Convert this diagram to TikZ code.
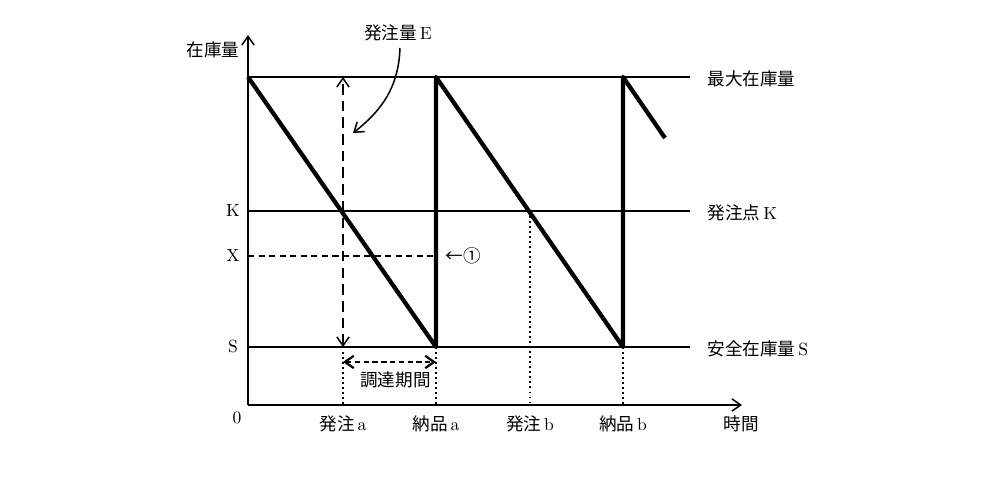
\documentclass[tikz,border=0pt]{standalone}
\usepackage{fontspec}
\usepackage{tikz}
\usetikzlibrary{arrows.meta}
\newfontfamily\jp{Noto Sans CJK JP}

\begin{document}
\begin{tikzpicture}[>={Straight Barb[length=5pt,width=7pt]}]
\useasboundingbox (-4.96,-1.9) rectangle (14.92,8.1);
\tikzset{
  thinline/.style={black, line width=0.03 cm},
  sawline/.style={black, line width=0.085 cm, line join=round},
  dotline/.style={black, line width=0.03 cm, dotted},
  lbl/.style={inner sep=1pt}
}

% axes
\coordinate (o) at (0,0);
\coordinate (xend) at (9.88,0);
\coordinate (yend) at (0,7.4);
\draw[thinline,->] (o) -- (xend);
\draw[thinline,->] (o) -- (yend);
\node[lbl] (zero) at (-0.22,-0.26) {0};
\node[lbl,font=\jp] (ylabel) at (-0.7,7.1) {在庫量};
\node[lbl,font=\jp] (xlabel) at (9.86,-0.38) {時間};

% levels
\coordinate (max0) at (0,6.56);
\coordinate (max1) at (8.84,6.56);
\coordinate (k0) at (0,3.88);
\coordinate (k1) at (8.84,3.88);
\coordinate (s0) at (0,1.16);
\coordinate (s1) at (8.84,1.16);
\draw[thinline] (max0) -- (max1);
\draw[thinline] (k0) -- (k1);
\draw[thinline] (s0) -- (s1);
\node[lbl,font=\jp,anchor=west] (maxlbl) at (9.15,6.52) {最大在庫量};
\node[lbl,anchor=west] (klbl) at (9.15,3.84) {{\jp 発注点}\,K};
\node[lbl,anchor=west] (slbl) at (9.15,1.12) {{\jp 安全在庫量}\,S};
\node[lbl] (k) at (-0.3,3.88) {K};
\node[lbl] (x) at (-0.3,2.98) {X};
\node[lbl] (s) at (-0.3,1.16) {S};

% sawtooth
\coordinate (p1) at (3.76,1.16);
\coordinate (p2) at (3.76,6.56);
\coordinate (p3) at (7.5,1.16);
\coordinate (p4) at (7.5,6.56);
\coordinate (p5) at (8.34,5.34);
\draw[sawline] (max0) -- (p1) -- (p2) -- (p3) -- (p4) -- (p5);

% X level
\coordinate (xa) at (3.76,2.98);
\draw[thinline, dash pattern=on 3.5pt off 2.5pt] (0,2.98) -- (xa);
\node[lbl,font=\jp] (one) at (4.3,2.98) {←①};

% order quantity
\coordinate (oa) at (1.9,0);
\coordinate (oatop) at (1.9,6.56);
\coordinate (oabot) at (1.9,1.16);
\draw[thinline, dash pattern=on 6pt off 3.5pt, <->] (oabot) -- (oatop);
\node[lbl,font=\jp] (elbl) at (3.0,7.45) {発注量\,\rmfamily E};
\coordinate (etip) at (2.1,5.44);
\draw[thinline,->] (3.04,7.14) to[out=-92,in=38] (etip);

% lead time
\coordinate (lt0) at (1.9,0.86);
\coordinate (lt1) at (3.76,0.86);
\draw[black, line width=0.045 cm, dash pattern=on 3pt off 2pt, <->] (lt0) -- (lt1);
\node[lbl,font=\jp] (ltlbl) at (2.95,0.5) {調達期間};

% ticks
\draw[dotline] (oabot) -- (oa);
\draw[dotline] (p1) -- (3.76,0);
\draw[dotline] (5.64,3.88) -- (5.64,0);
\draw[dotline] (p3) -- (7.5,0);
\node[lbl] (ta) at (1.9,-0.38) {{\jp 発注}\,a};
\node[lbl] (da) at (3.76,-0.38) {{\jp 納品}\,a};
\node[lbl] (tb) at (5.64,-0.38) {{\jp 発注}\,b};
\node[lbl] (db) at (7.5,-0.38) {{\jp 納品}\,b};
\end{tikzpicture}
\end{document}
